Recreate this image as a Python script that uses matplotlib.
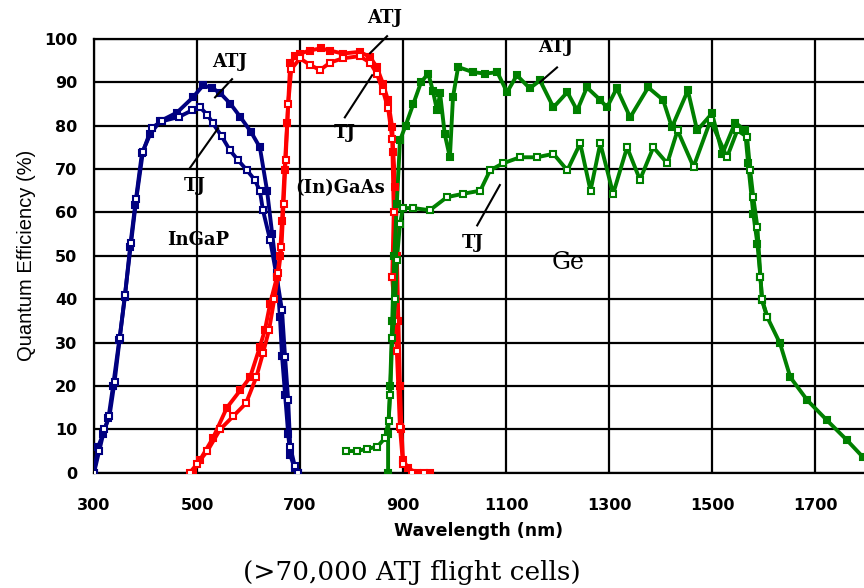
import numpy as np
import matplotlib
matplotlib.use('Agg')
import matplotlib.pyplot as plt

# InGaP (blue)
ingap_atj_x = [300, 308, 318, 328, 337, 349, 360, 370, 380, 393, 409, 428, 461, 492, 512, 530, 545, 565, 584, 605,
               622, 636, 646, 655, 661, 665, 671, 677, 681, 690, 696]
ingap_atj_y = [0, 6, 9, 12.6, 20, 30.5, 40.5, 52, 61.7, 73.6, 78, 81, 83, 86.5, 89.3, 88.6, 87.5, 85, 82, 78.5,
               75, 65, 55, 46, 36, 27, 18, 9, 4, 1, 0]
ingap_tj_x = [300, 310, 320, 330, 340, 350, 360, 372, 382, 395, 412, 432, 465, 490, 506, 520, 531, 548, 564, 580,
              597, 612, 622, 628, 642, 655, 665, 671, 677, 681, 690, 696]
ingap_tj_y = [0, 5, 10, 13, 21, 31, 41, 53, 63, 74, 79.5, 81, 82, 83.5, 84.2, 82.5, 80.5, 77.5, 74.3, 72,
              69.7, 67.5, 65, 60.5, 53.6, 45, 37.4, 26.6, 16.7, 5.9, 1.5, 0]

# (In)GaAs (red)
gaas_atj_x = [492, 506, 531, 558, 584, 603, 622, 632, 642, 655, 661, 665, 670, 675, 681, 690, 700, 719, 740, 758,
              783, 816, 836, 849, 861, 871, 879, 881, 885, 888, 891, 894, 897, 900, 910, 927, 952]
gaas_atj_y = [0, 3, 8, 15, 19, 22, 29, 33, 39, 45, 50, 58, 69.7, 80.5, 94.4, 96, 96.6, 97.3, 97.8, 97.3,
              96.6, 97, 95.8, 93.5, 89.7, 85.8, 79.6, 74, 65.8, 50, 35, 20, 10, 3, 1, 0, 0]
gaas_tj_x = [486, 500, 520, 545, 570, 595, 615, 628, 640, 650, 658, 664, 668, 672, 677, 683, 700, 719, 739, 758,
             783, 816, 836, 849, 861, 871, 879, 882, 879, 885, 888, 894, 900, 917, 940]
gaas_tj_y = [0, 2, 5, 10, 13, 16, 22, 27.5, 33, 40, 46, 52, 62, 72, 85, 93, 95.5, 94, 92.8, 94.5,
             95.5, 96, 94.5, 92, 88, 84, 77, 60, 45, 35, 28, 10.5, 2, 0, 0]

# Ge (green)
ge_atj_x = [871, 871, 875, 879, 883, 888, 894, 905, 920, 935, 949, 958, 966, 972, 981, 991, 997, 1007, 1036, 1060,
            1083, 1102, 1121, 1146, 1166, 1192, 1219, 1238, 1257, 1283, 1296, 1315, 1341, 1376, 1405, 1422, 1453,
            1471, 1500, 1520, 1545, 1564, 1570, 1580, 1588, 1594, 1597, 1607, 1632, 1652, 1685, 1723, 1762, 1793]
ge_atj_y = [0, 9, 20, 35, 50, 62, 76.6, 80, 85, 90, 92, 88, 83.5, 87.4, 78, 72.7, 86.6, 93.5, 92.3, 92,
            92.3, 87.7, 91.6, 88.6, 90.4, 84.2, 87.7, 83.5, 88.8, 85.9, 84.2, 88.6, 81.9, 88.8, 85.9, 79.6, 88.1,
            78.9, 82.8, 73.5, 80.7, 78.9, 71.3, 59.7, 52.8, 45, 39.7, 35.9, 29.8, 22, 16.7, 12.1, 7.5, 3.6]
ge_tj_x = [790, 810, 830, 850, 865, 872, 875, 879, 885, 888, 894, 900, 920, 952, 985, 1017, 1050, 1069, 1094, 1127,
           1160, 1192, 1219, 1244, 1264, 1283, 1308, 1335, 1360, 1386, 1413, 1433, 1464, 1497, 1529, 1549, 1568,
           1574, 1580, 1588, 1594, 1597, 1607]
ge_tj_y = [5, 5, 5.5, 6, 8, 12, 18, 31, 40, 49, 57.4, 61, 61, 60.5, 63.5, 64.3, 65, 69.7, 71.3, 72.7,
           72.7, 73.5, 69.7, 75.9, 65, 75.9, 64.3, 75, 67.5, 75, 71.3, 78.9, 70.5, 81.2, 72.7, 78.9, 77.4,
           69.7, 63.5, 56.6, 45, 40, 36]

blue = '#000080'
red = '#ff0000'
green = '#008000'

fig = plt.figure(figsize=(8.64, 5.88), dpi=100)
ax = fig.add_axes([0.1088, 0.196, 0.8912, 0.738])

ax.set_xlim(300, 1795)
ax.set_ylim(0, 100)
ax.set_xticks(np.arange(300, 1701, 200))
ax.set_yticks(np.arange(0, 101, 10))
ax.grid(True, color='black', lw=1.6)
ax.set_axisbelow(True)
for s in ['left', 'bottom', 'top']:
    ax.spines[s].set_linewidth(1.6)
ax.spines['right'].set_visible(False)
ax.tick_params(axis='both', length=0, labelsize=11.5)
ax.tick_params(axis='x', pad=18)
ax.tick_params(axis='y', pad=12)
for lab in ax.get_xticklabels() + ax.get_yticklabels():
    lab.set_fontweight('bold')
    lab.set_family('DejaVu Sans')

def curve(x, y, c, filled):
    ax.plot(x, y, '-', color=c, lw=2.8, zorder=3)
    ax.plot(x, y, 's', color=c, ms=5, mfc=c if filled else 'white', mec=c, mew=1.5, zorder=4)

curve(ingap_atj_x, ingap_atj_y, blue, True)
curve(ingap_tj_x, ingap_tj_y, blue, False)
curve(gaas_atj_x, gaas_atj_y, red, True)
curve(gaas_tj_x, gaas_tj_y, red, False)
curve(ge_atj_x, ge_atj_y, green, True)
curve(ge_tj_x, ge_tj_y, green, False)

# labels and pointer lines
tfont = dict(family='DejaVu Serif', fontweight='bold', fontsize=13, ha='center', va='center', zorder=6)
ax.text(564, 94.6, 'ATJ', **tfont)
ax.plot([568, 535], [90.7, 86.5], color='black', lw=1.5, zorder=5)
ax.text(496, 66, 'TJ', **tfont)
ax.plot([486, 541], [70.2, 79.4], color='black', lw=1.5, zorder=5)
ax.text(865, 104.7, 'ATJ', clip_on=False, **tfont)
ax.plot([869, 836], [100.6, 96.7], color='black', lw=1.5, zorder=5, clip_on=False)
ax.text(787, 78.3, 'TJ', **tfont)
ax.plot([787, 840], [81.9, 91.6], color='black', lw=1.5, zorder=5)
ax.text(778, 65.6, '(In)GaAs', **tfont)
ax.text(502, 53.6, 'InGaP', **tfont)
ax.text(1197, 98, 'ATJ', **tfont)
ax.plot([1199, 1166], [93.4, 90], color='black', lw=1.5, zorder=5)
ax.text(1036, 52.9, 'TJ', **tfont)
ax.plot([1044, 1088], [57, 66.3], color='black', lw=1.5, zorder=5)
ax.text(1220, 48.5, 'Ge', family='DejaVu Serif', fontsize=17, ha='center', va='center', zorder=6)

ax.set_ylabel('Quantum Efficiency (%)', family='Liberation Sans', fontsize=14.5, labelpad=6)
ax.set_xlabel('Wavelength (nm)', family='DejaVu Sans', fontweight='bold', fontsize=12.5, labelpad=7)
fig.text(0.477, 0.027, '(>70,000 ATJ flight cells)', family='DejaVu Serif', fontsize=19, ha='center', va='center')

fig.savefig('out.png', dpi=100)
